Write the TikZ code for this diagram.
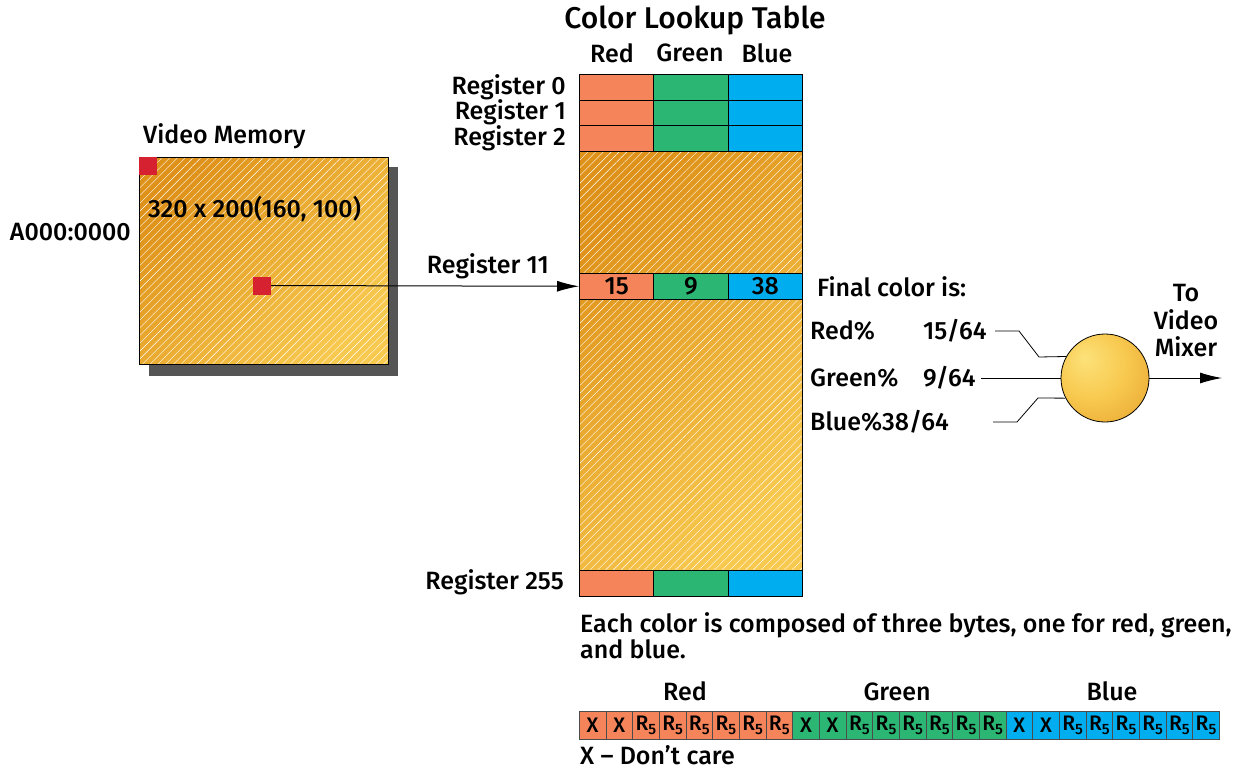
\documentclass[tikz,border=0pt]{standalone}
\usepackage{fontspec}
\setmainfont{Fira Sans}[UprightFont=* Medium, BoldFont=* SemiBold]
\usetikzlibrary{arrows.meta,patterns.meta,shadings}
\definecolor{cred}{HTML}{F5845A}
\definecolor{cgreen}{HTML}{2BB673}
\definecolor{cblue}{HTML}{00AEEF}
\definecolor{osdark}{HTML}{DF9219}
\definecolor{oslight}{HTML}{F8C94F}
\definecolor{sqred}{HTML}{D62230}
\definecolor{shadowgray}{HTML}{555555}
\definecolor{balllight}{HTML}{FCE27A}
\definecolor{balldark}{HTML}{DF9420}
\pgfdeclareradialshading{mixball}{\pgfpoint{-12bp}{12bp}}{color(0bp)=(balllight); color(20bp)=(oslight); color(50bp)=(balldark); color(60bp)=(balldark)}
\newcommand\rfive{R\raisebox{-0.22em}{\fontsize{15}{15}\selectfont 5}}
\tikzset{
  orangefill/.style={top color=osdark, bottom color=oslight, shading angle=45,
    postaction={pattern={Lines[angle=45,distance=5.5pt,line width=0.4pt]}, pattern color=white, fill opacity=0.1}},
  cell/.style={draw, line width=1pt, minimum width=74.33, minimum height=25.6, anchor=north west},
  lbl/.style={font=\fontsize{25}{29}\selectfont},
  bit/.style={draw=black!70, line width=0.6pt, minimum width=26.67, minimum height=28, anchor=north west, font=\fontsize{21}{22}\selectfont},
  tip/.style={-{Latex[length=22pt,width=11pt]}},
}
\begin{document}
\begin{tikzpicture}[x=1pt,y=-1pt, every node/.style={inner sep=0pt}]
\useasboundingbox (0,0) rectangle (1236,771);
% title
\node[font=\fontsize{30}{33}\selectfont] (title) at (695,20) {Color Lookup Table};
\node[lbl] (hr) at (612,53) {Red};
\node[lbl] (hg) at (690,53) {Green};
\node[lbl] (hb) at (767,53) {Blue};
% video memory
\fill[shadowgray] (149,167) rectangle (398,376);
\node[orangefill, minimum width=249, minimum height=207, anchor=north west] (vm) at (139,157) {};
\draw[line width=1pt] (vm.north west) rectangle (vm.south east);
\node[fill=sqred, minimum size=18, anchor=north west] (sq1) at (139,157) {};
\node[fill=sqred, minimum size=18] (sq2) at (262,285.5) {};
\node[lbl, anchor=base west] (vmt) at (143,143) {Video Memory};
\node[lbl, anchor=base west] (res) at (148,217) {320 x 200(160, 100)};
\node[lbl, anchor=base east] (addr) at (131,240) {A000:0000};
% lookup table
\node[orangefill, minimum width=223, minimum height=419, anchor=north west] (clut) at (579,151) {};
\draw[line width=1pt] (clut.north west) rectangle (clut.south east);
\foreach \r/\y in {0/74,1/99.6,2/125.2,11/273,255/570}{
  \node[cell, fill=cred] (r\r r) at (579,\y) {};
  \node[cell, fill=cgreen] (r\r g) at (653.33,\y) {};
  \node[cell, fill=cblue] (r\r b) at (727.67,\y) {};
}
\node[lbl] at (r11r) {15};
\node[lbl] at (r11g) {9};
\node[lbl] at (r11b) {38};
\node[lbl, anchor=east] (l0) at (566,87) {Register 0};
\node[lbl, anchor=east] (l1) at (566,112) {Register 1};
\node[lbl, anchor=east] (l2) at (566,138) {Register 2};
\node[lbl, anchor=east] (l11) at (549,266) {Register 11};
\node[lbl, anchor=east] (l255) at (564,582) {Register 255};
\draw[tip, line width=1pt] (sq2.east) -- (r11r.west);
% final color
\node[lbl, anchor=west] (fc) at (817,287) {Final color is:};
\node[lbl, anchor=west] (pr) at (810,331) {Red\%};
\node[lbl, anchor=west] (vr) at (923,331) {15/64};
\node[lbl, anchor=west] (pg) at (810,378) {Green\%};
\node[lbl, anchor=west] (vg) at (923,378) {9/64};
\node[lbl, anchor=west] (pb) at (810,422) {Blue\%38/64};
\node[circle, draw, line width=0.8pt, shading=mixball, minimum size=88] (mix) at (1105,378) {};
\coordinate (rs) at (995,331);
\coordinate (gs) at (981,378);
\coordinate (bs) at (993,422);
\coordinate (out) at (1222,378);
\draw[line width=0.8pt] (rs) -- (1019,331) -- (1039,357) -- (mix.151.5);
\draw[line width=0.8pt] (gs) -- (mix.west);
\draw[line width=0.8pt] (bs) -- (1017,422) -- (1038,398) -- (mix.207);
\draw[tip, line width=1pt] (mix.east) -- (out);
\node[lbl, align=center, font=\fontsize{25}{27.5}\selectfont] (tvm) at (1186,321) {To\\Video\\Mixer};
% bytes
\node[lbl, anchor=base west] (e1) at (580,632) {Each color is composed of three bytes, one for red, green,};
\node[lbl, anchor=base west] (e2) at (580,658) {and blue.};
\node[lbl, anchor=base] (br) at (685,700.5) {Red};
\node[lbl, anchor=base] (bg) at (897,700.5) {Green};
\node[lbl, anchor=base] (bb) at (1112,700.5) {Blue};
\foreach \g/\c in {0/cred,1/cgreen,2/cblue}{
  \foreach \i in {0,...,7}{
    \pgfmathsetmacro\xx{579+(\g*8+\i)*26.667}
    \ifnum\i<2
      \node[bit, fill=\c] (b\g\i) at (\xx,711) {X};
    \else
      \node[bit, fill=\c] (b\g\i) at (\xx,711) {\rfive};
    \fi
  }
}
\node[lbl, anchor=base west] (dc) at (580,764) {X – Don’t care};
\end{tikzpicture}
\end{document}
